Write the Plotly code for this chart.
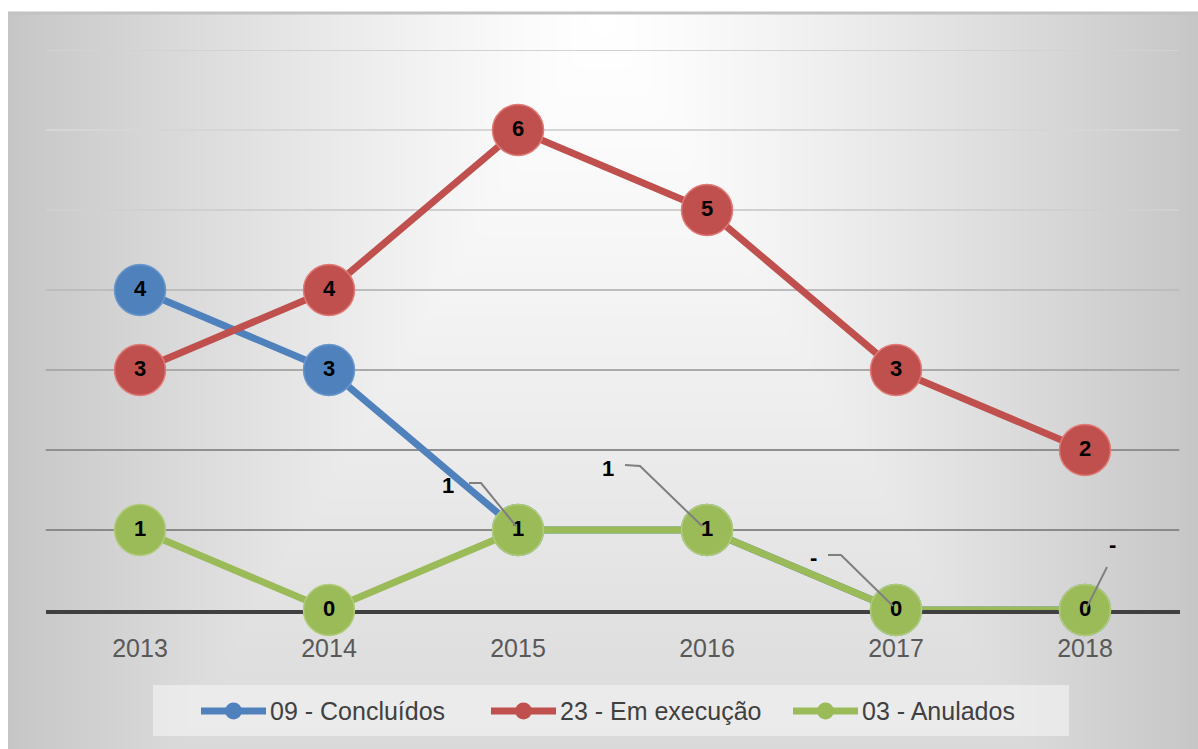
import numpy as np
import plotly.graph_objects as go

# ---- data ----
anos = ["2013", "2014", "2015", "2016", "2017", "2018"]
concluidos = [4, 3, 1, 1, 0, 0]
em_execucao = [3, 4, 6, 5, 3, 2]
anulados = [1, 0, 1, 1, 0, 0]

nome_concluidos = "09 - Concluídos"
nome_execucao = "23 - Em execução"
nome_anulados = "03 - Anulados"

AZUL = "#4f81bd"
VERMELHO = "#c0504d"
VERDE = "#9bbb59"

W, H = 1198, 749
ML, MT = 8, 13
PW, PH = W - ML, H - MT


def px(x):
    return (x - ML) / PW


def py(y):
    return (H - y) / PH


def rotulo(v, zero="-"):
    return str(v) if v else zero


fig = go.Figure()

# soft grey-to-white background behind the chart
gx = np.linspace(0, 1, 80)
gy = np.linspace(0, 1, 60)
XX, YY = np.meshgrid(gx, gy)
dist = np.maximum(np.abs(XX - 0.5) / 0.5, 0.72 * (1 - YY))
shade = 255 - 57 * dist ** 1.25
fig.add_trace(go.Heatmap(
    x=gx, y=gy, z=shade, zmin=190, zmax=255, zsmooth="best",
    colorscale=[[0, "rgb(190,190,190)"], [1, "rgb(255,255,255)"]],
    showscale=False, hoverinfo="skip", xaxis="x", yaxis="y",
))

# label offsets (pixels) for points whose label sits beside the marker
desloc_concluidos = [None, None, (-70, 45), (-99, 62), (-83, 53), (27, 66)]
guia_concluidos = [
    None, None,
    [(-49, 47), (-37, 47), (-2, 4)],
    [(-82, 65), (-67, 64), (-5, 4)],
    [(-68, 55), (-55, 55), (-3, 4)],
    [(22, 43), (2, 3)],
]

FONTE_ROTULO = dict(family="Liberation Sans, Arial", size=22, color="#000000",
                    weight="bold")

series = [
    (nome_concluidos, concluidos, AZUL, "#6b97cc"),
    (nome_execucao, em_execucao, VERMELHO, "#e07a77"),
    (nome_anulados, anulados, VERDE, "#b0cc7a"),
]

for nome, vals, cor, borda in series:
    if nome == nome_concluidos:
        textos = [rotulo(v) if desloc_concluidos[i] is None else ""
                  for i, v in enumerate(vals)]
    else:
        textos = [str(v) for v in vals]
    fig.add_trace(go.Scatter(
        x=anos, y=vals, name=nome, mode="lines+markers+text",
        line=dict(color=cor, width=7),
        marker=dict(size=51, color=cor, line=dict(color=borda, width=1.5)),
        text=textos, textposition="middle center", textfont=FONTE_ROTULO,
        cliponaxis=False, showlegend=False, xaxis="x2", yaxis="y2",
    ))

shapes = []
annotations = []

# horizontal gridlines, fading towards the top
cores_grade = {1: "#8a8a8a", 2: "#909090", 3: "#aaaaaa", 4: "#bdbdbd",
               5: "#d0d0d0", 6: "#d6d6d6", 7: "#d2d2d2"}
for nivel, cg in cores_grade.items():
    shapes.append(dict(type="line", xref="x2", yref="y2", x0=-0.5, x1=5.5,
                       y0=nivel, y1=nivel, layer="between",
                       line=dict(color=cg, width=2)))

# displaced labels with leader lines (category index used as x position)
for i, v in enumerate(concluidos):
    off = desloc_concluidos[i]
    if off is None:
        continue
    annotations.append(dict(
        x=i, y=v, xref="x2", yref="y2", text=rotulo(v), showarrow=False,
        xshift=off[0], yshift=off[1], font=FONTE_ROTULO,
    ))
    pts = guia_concluidos[i]
    path = "M" + "L".join(f"{a},{b}" for a, b in pts)
    shapes.append(dict(type="path", xref="x2", yref="y2", xsizemode="pixel",
                       ysizemode="pixel", xanchor=i, yanchor=v, path=path,
                       layer="above", line=dict(color="#7f7f7f", width=2)))

# top edge of the chart area
shapes.append(dict(type="line", xref="paper", yref="paper", x0=0, x1=1, y0=1, y1=1,
                   layer="above", line=dict(color="#c2c2c2", width=3)))

# legend box and entries
shapes.append(dict(type="rect", xref="paper", yref="paper",
                   x0=px(153), x1=px(1069), y0=py(736), y1=py(685),
                   layer="above", line=dict(width=0),
                   fillcolor="rgba(245,245,245,0.6)"))
legenda = [(nome_concluidos, AZUL, 199), (nome_execucao, VERMELHO, 489),
           (nome_anulados, VERDE, 791)]
ly = 711
for nome, cor, x0 in legenda:
    shapes.append(dict(type="line", xref="paper", yref="paper",
                       x0=px(x0 + 2), x1=px(x0 + 67), y0=py(ly), y1=py(ly),
                       layer="above", line=dict(color=cor, width=7)))
    shapes.append(dict(type="circle", xref="paper", yref="paper",
                       x0=px(x0 + 26), x1=px(x0 + 43), y0=py(ly - 8.5), y1=py(ly + 8.5),
                       layer="above", line=dict(width=0), fillcolor=cor))
    annotations.append(dict(
        x=px(x0 + 69), y=py(ly), xref="paper", yref="paper", text=nome,
        showarrow=False, xanchor="left", yanchor="middle",
        font=dict(family="Liberation Sans, Arial", size=25, color="#404040"),
    ))

fig.update_layout(
    width=W, height=H,
    margin=dict(l=ML, r=0, t=MT, b=0, pad=0),
    paper_bgcolor="#ffffff", plot_bgcolor="rgba(0,0,0,0)",
    showlegend=False,
    xaxis=dict(domain=[0, 1], range=[0, 1], visible=False, fixedrange=True),
    yaxis=dict(domain=[0, 1], range=[0, 1], visible=False, fixedrange=True),
    xaxis2=dict(domain=[px(45.5), px(1179.5)], anchor="y2", type="category",
                range=[-0.5, 5.5], showgrid=False, zeroline=False,
                showline=True, linecolor="#404040", linewidth=4,
                layer="below traces", ticks="outside", ticklen=13,
                tickcolor="rgba(0,0,0,0)",
                tickfont=dict(family="Liberation Sans, Arial", size=25,
                              color="#595959")),
    yaxis2=dict(domain=[py(610), py(50)], anchor="x2", range=[0, 7],
                showgrid=False, zeroline=False, showticklabels=False,
                showline=False),
    shapes=shapes, annotations=annotations,
)

fig.write_html("out.html")
